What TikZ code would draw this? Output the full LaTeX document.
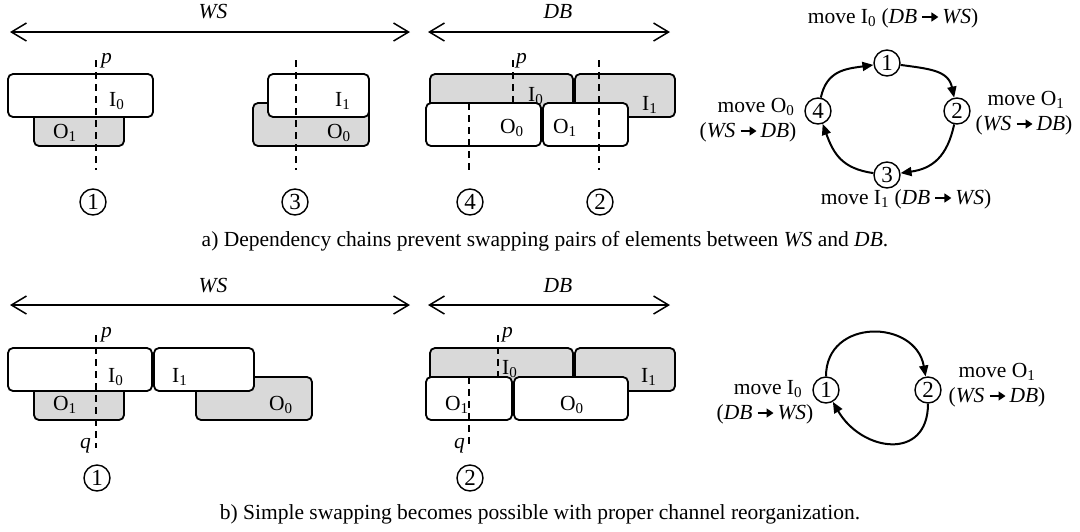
\documentclass[tikz,border=0pt]{standalone}
\usepackage{fontspec}
\setmainfont{Liberation Serif}
\usetikzlibrary{arrows.meta}
\newcommand\sbs[1]{\textsubscript{#1}}
\newcommand\toarrow{\hspace{0.2em}\tikz[baseline=-6pt]\draw[line width=1.5pt,-{Triangle[length=7pt,width=9pt]}] (0pt,0pt) -- (16pt,0pt);\hspace{0.15em}}
\begin{document}
\begin{tikzpicture}[x=1pt,y=1pt,
  every node/.style={font=\fontsize{21.5}{25}\selectfont, inner sep=0pt},
  wbox/.style={draw, line width=1.8pt, rounded corners=5pt, fill=white},
  gbox/.style={wbox, fill=black!15},
  cutline/.style={line width=2pt, dash pattern=on 7pt off 5pt},
  spanarrow/.style={line width=1.5pt, {Straight Barb[length=15pt,width=18pt]}-{Straight Barb[length=15pt,width=18pt]}},
  numc/.style={circle, draw, line width=1.4pt, minimum size=26pt, inner sep=0pt, font=\fontsize{23}{25}\selectfont},
  flowarr/.style={line width=2pt, -{Triangle[length=11pt,width=9pt]}},
  labl/.style={anchor=base west},
  txtc/.style={anchor=base}]
\useasboundingbox (0,-531) rectangle (1080,0);

% ---------------- part a ----------------
\coordinate (wsaL) at (10,-32);  \coordinate (wsaR) at (410,-32);
\coordinate (dbaL) at (428,-32); \coordinate (dbaR) at (670,-32);
\draw[spanarrow] (wsaL) -- (wsaR);
\draw[spanarrow] (dbaL) -- (dbaR);
\node[txtc] (wsa) at (213,-18) {\textit{WS}};
\node[txtc] (dba) at (558,-18) {\textit{DB}};

% group 1
\draw[gbox] (34,-110) rectangle (124,-146);
\draw[wbox] (8,-74) rectangle (153,-117);
\node[labl] (a1I0) at (109,-106) {I\sbs{0}};
\node[labl] (a1O1) at (53,-138) {O\sbs{1}};
\coordinate (a1t) at (96,-60); \coordinate (a1b) at (96,-170);
\draw[cutline] (a1t) -- (a1b);
\node[labl] (a1p) at (101,-63) {\textit{p}};
\node[numc] (ac1) at (93,-202) {1};

% group 3
\draw[gbox] (253,-103) rectangle (369,-146);
\draw[wbox] (268,-74) rectangle (369,-117);
\node[labl] (a3I1) at (335,-106) {I\sbs{1}};
\node[labl] (a3O0) at (327,-138) {O\sbs{0}};
\coordinate (a3t) at (296,-60); \coordinate (a3b) at (296,-170);
\draw[cutline] (a3t) -- (a3b);
\node[numc] (ac3) at (295,-202) {3};

% DB group
\draw[gbox] (430,-74) rectangle (573,-117);
\draw[gbox] (575,-74) rectangle (675,-117);
\node[labl] (adI0) at (528,-101) {I\sbs{0}};
\node[labl] (adI1) at (642,-110) {I\sbs{1}};
\coordinate (adpt) at (513,-60); \coordinate (adpb) at (513,-103);
\draw[cutline] (adpt) -- (adpb);
\node[labl] (adp) at (516,-63) {\textit{p}};
\draw[wbox] (426,-103) rectangle (541,-146);
\draw[wbox] (543,-103) rectangle (628,-146);
\node[labl] (adO0) at (500,-133) {O\sbs{0}};
\node[labl] (adO1) at (553,-133) {O\sbs{1}};
\coordinate (ad4t) at (469,-103); \coordinate (ad4b) at (469,-173);
\draw[cutline] (ad4t) -- (ad4b);
\coordinate (ad2t) at (599,-60); \coordinate (ad2b) at (599,-170);
\draw[cutline] (ad2t) -- (ad2b);
\node[numc] (ac4) at (470,-202) {4};
\node[numc] (ac2) at (600,-202) {2};

% graph a
\node[numc] (g1) at (887,-63) {1};
\node[numc] (g2) at (957,-111) {2};
\node[numc] (g3) at (887,-175) {3};
\node[numc] (g4) at (818,-111) {4};
\draw[flowarr] (g4) to[out=78,in=188,looseness=1.15] (g1);
\draw[flowarr] (g1) to[out=-8,in=102,looseness=1.15] (g2);
\draw[flowarr] (g2) to[out=-102,in=8,looseness=1.15] (g3);
\draw[flowarr] (g3) to[out=172,in=-70,looseness=1.15] (g4);
\node[txtc] (tg1) at (893,-23) {move I\sbs{0} (\textit{DB}\toarrow\textit{WS})};
\node[txtc] (tg2a) at (1026,-105) {move O\sbs{1}};
\node[txtc] (tg2b) at (1024,-130) {(\textit{WS}\toarrow\textit{DB})};
\node[txtc] (tg3) at (906,-204) {move I\sbs{1} (\textit{DB}\toarrow\textit{WS})};
\node[txtc] (tg4a) at (756,-112) {move O\sbs{0}};
\node[txtc] (tg4b) at (748,-137) {(\textit{WS}\toarrow\textit{DB})};

\node[txtc] (capa) at (545,-246) {a) Dependency chains prevent swapping pairs of elements between \textit{WS} and \textit{DB}.};

% ---------------- part b ----------------
\coordinate (wsbL) at (10,-305);  \coordinate (wsbR) at (410,-305);
\coordinate (dbbL) at (428,-305); \coordinate (dbbR) at (670,-305);
\draw[spanarrow] (wsbL) -- (wsbR);
\draw[spanarrow] (dbbL) -- (dbbR);
\node[txtc] (wsb) at (213,-292) {\textit{WS}};
\node[txtc] (dbb) at (558,-292) {\textit{DB}};

% WS group
\draw[gbox] (34,-380) rectangle (124,-420);
\draw[gbox] (196,-377) rectangle (312,-420);
\draw[wbox] (8,-348) rectangle (152,-391);
\draw[wbox] (154,-348) rectangle (254,-391);
\node[labl] (bwI0) at (108,-382) {I\sbs{0}};
\node[labl] (bwI1) at (172,-382) {I\sbs{1}};
\node[labl] (bwO1) at (53,-410) {O\sbs{1}};
\node[labl] (bwO0) at (269,-410) {O\sbs{0}};
\coordinate (bwt) at (96,-335); \coordinate (bwb) at (96,-448);
\draw[cutline] (bwt) -- (bwb);
\node[labl] (bwp) at (101,-337) {\textit{p}};
\node[anchor=base east] (bwq) at (91,-448) {\textit{q}};
\node[numc] (bc1) at (97,-478) {1};

% DB group
\draw[gbox] (430,-348) rectangle (573,-391);
\draw[gbox] (575,-348) rectangle (675,-391);
\node[labl] (bdI0) at (502,-374) {I\sbs{0}};
\node[labl] (bdI1) at (641,-382) {I\sbs{1}};
\coordinate (bdpt) at (498,-335); \coordinate (bdpb) at (498,-377);
\draw[cutline] (bdpt) -- (bdpb);
\node[labl] (bdp) at (502,-337) {\textit{p}};
\draw[wbox] (426,-377) rectangle (512,-420);
\draw[wbox] (514,-377) rectangle (628,-420);
\node[labl] (bdO1) at (445,-410) {O\sbs{1}};
\node[labl] (bdO0) at (560,-410) {O\sbs{0}};
\coordinate (bdqt) at (469,-377); \coordinate (bdqb) at (469,-448);
\draw[cutline] (bdqt) -- (bdqb);
\node[anchor=base east] (bdq) at (465,-448) {\textit{q}};
\node[numc] (bc2) at (470,-478) {2};

% graph b
\node[numc] (h1) at (826,-390) {1};
\node[numc] (h2) at (928,-390) {2};
\draw[flowarr] (h1) to[out=90,in=100,looseness=1.5] (h2);
\draw[flowarr] (h2) to[out=-90,in=-60,looseness=1.55] (h1);
\node[txtc] (th1a) at (768,-394) {move I\sbs{0}};
\node[txtc] (th1b) at (765,-419) {(\textit{DB}\toarrow\textit{WS})};
\node[txtc] (th2a) at (997,-377) {move O\sbs{1}};
\node[txtc] (th2b) at (997,-402) {(\textit{WS}\toarrow\textit{DB})};

\node[txtc] (capb) at (540,-519) {b) Simple swapping becomes possible with proper channel reorganization.};
\end{tikzpicture}
\end{document}
